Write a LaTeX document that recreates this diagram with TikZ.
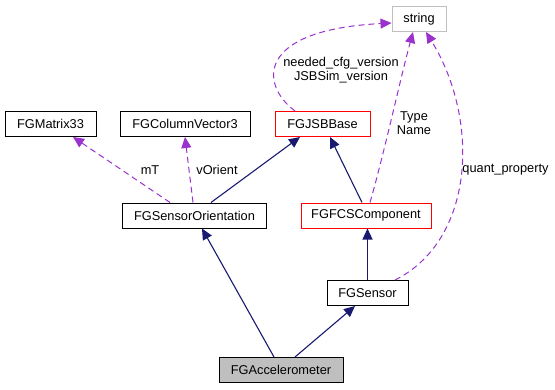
\documentclass[tikz,border=0pt]{standalone}
\usepackage{fontspec}
\setmainfont{Liberation Sans}
\usetikzlibrary{arrows.meta}
\definecolor{inhcol}{HTML}{191970}
\definecolor{usecol}{HTML}{9A32CD}
\definecolor{boxgrey}{HTML}{BFBFBF}
\begin{document}
\begin{tikzpicture}[x=1pt,y=-1pt,font=\fontsize{12.8}{14}\selectfont,
  member/.style={draw=usecol,line width=1pt,dash pattern=on 6pt off 4pt,-{Triangle[length=11pt,width=10pt]}}]
  \useasboundingbox (0,0) rectangle (555,389);
  \begin{scope}[every node/.style={draw,line width=1pt,minimum height=25pt,inner sep=0pt}]
  \node[draw=boxgrey,minimum width=54pt] (str) at (419,19) {string};
  \node[draw=red,minimum width=95pt] (jsb) at (322.5,124) {FGJSBBase};
  \node[minimum width=91pt] (mat) at (50.5,124) {FGMatrix33};
  \node[minimum width=130pt] (vec) at (185,124) {FGColumnVector3};
  \node[minimum width=144pt] (ori) at (194.5,215.5) {FGSensorOrientation};
  \node[draw=red,minimum width=130pt] (fcs) at (366,215.5) {FGFCSComponent};
  \node[minimum width=81pt] (sen) at (367.5,293) {FGSensor};
  \node[fill=boxgrey,minimum width=124pt] (acc) at (281,370) {FGAccelerometer};
  \end{scope}
  \begin{scope}[every edge/.style={draw=inhcol,line width=1.1pt,-{Triangle[length=11pt,width=10pt]}}]
  \path ([xshift=16.5pt]ori.north) edge ([xshift=-22.5pt]jsb.south);
  \path ([xshift=-4pt]fcs.north) edge ([xshift=7.5pt]jsb.south);
  \path (sen.north) edge (sen.north |- fcs.south);
  \path ([xshift=-7pt]acc.north) edge ([xshift=7.5pt]ori.south);
  \path ([xshift=14pt]acc.north) edge ([xshift=-12.5pt]sen.south);
  \end{scope}
  \draw[member] ([xshift=-24.5pt]ori.north) -- ([xshift=22.5pt]mat.south);
  \draw[member] ([xshift=-1.5pt]ori.north) -- (vec.south);
  \draw[member] ([xshift=-27.5pt]jsb.north) .. controls (260,85) and (255,30) .. ([yshift=-4pt]str.west);
  \draw[member] ([xshift=4pt]fcs.north) .. controls (385,150) and (400,80) .. ([xshift=-6pt]str.south);
  \draw[member] ([xshift=27.5pt]sen.north) .. controls (475,240) and (480,120) .. ([xshift=7pt]str.south);
  \begin{scope}[every node/.style={align=center,inner sep=0pt}]
  \node (lmt) at (150,170) {mT};
  \node (lvo) at (217,170) {vOrient};
  \node (lver) at (341,70) {needed\_cfg\_version\\JSBSim\_version};
  \node (ltn) at (414,123) {Type\\Name};
  \node (lqp) at (505.5,170) {quant\_property};
  \end{scope}
\end{tikzpicture}
\end{document}
